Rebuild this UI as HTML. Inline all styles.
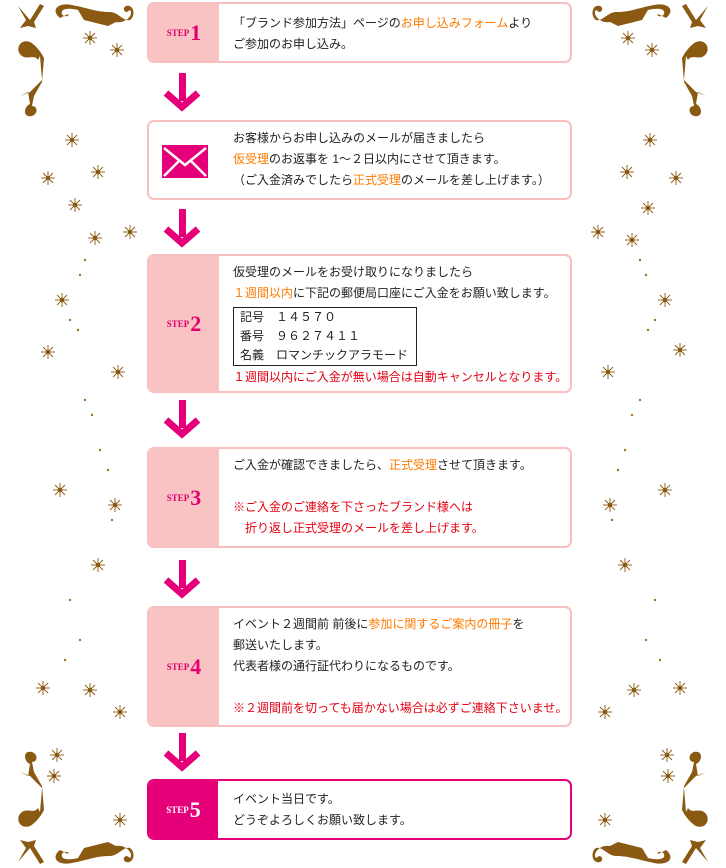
<!DOCTYPE html>
<html><head><meta charset="utf-8">
<style>
*{margin:0;padding:0;box-sizing:border-box}
body{width:726px;height:868px;background:#fff;position:relative;overflow:hidden;font-family:"Liberation Sans","Noto Sans CJK JP",sans-serif;font-size:12px;color:#222}
.box{position:absolute;left:147px;width:425px;border:2px solid #f8c0c0;border-radius:7px;background:#fff;overflow:hidden}
.lp{position:absolute;left:0;top:0;bottom:0;width:70px;background:#f9c3c3;display:flex;align-items:center;justify-content:center;color:#e3006e;font-family:"Liberation Serif",serif;font-weight:bold}
.lp .s{font-size:9px;letter-spacing:0}
.lp .n{font-size:22px;margin-left:1px}
.tx{position:absolute;left:84px;line-height:21px;white-space:nowrap}
.o{color:#ff7a00}.r{color:#e50012}
.arr{position:absolute;left:163px}
svg.bg{position:absolute;left:0;top:0}
.acc{display:inline-block;border:1px solid #222;padding:0 8px 0 6px;margin:3px 0 1px 0;line-height:19px}
</style></head><body>
<svg class="bg" width="726" height="868" viewBox="0 0 726 868">
<defs>
<g id="corner" fill="#8b5a12">
<path d="M18 6 L30 20 L40 4 L44 6 L34 22 L36 28 L28 26 L20 28 L26 20 Z"/>
<path d="M60 18 C50 10 58 2 72 5 C88 8 96 12 110 12 C118 12 124 22 130 20 C136 16 134 4 126 6 C122 8 124 12 127 12 L130 10 C134 14 126 24 116 22 L108 26 L100 24 L84 20 L78 10 C70 8 60 8 62 14 C64 18 70 16 68 14 Z"/>
<path d="M30 42 C20 38 14 50 22 56 C28 60 34 54 38 60 L40 56 L42 80 L30 92 L20 96 L28 92 L30 104 C24 106 22 118 32 116 C38 114 38 106 32 106 L34 96 L42 82 L44 58 C40 50 34 44 30 42 Z"/>
</g>
<g id="st" stroke="#8b5a12" stroke-width="0.9">
<line x1="-7" y1="0" x2="7" y2="0"/><line x1="0" y1="-7" x2="0" y2="7"/><line x1="-5" y1="-5" x2="5" y2="5"/><line x1="-5" y1="5" x2="5" y2="-5"/><circle r="1.8" fill="#8b5a12"/>
</g>
</defs>
<use href="#corner"/>
<use href="#corner" transform="translate(726,0) scale(-1,1)"/>
<use href="#corner" transform="translate(0,868) scale(1,-1)"/>
<use href="#corner" transform="translate(726,868) scale(-1,-1)"/>
<g>
<use href="#st" x="90" y="38"/><use href="#st" x="117" y="50"/><use href="#st" x="72" y="140"/><use href="#st" x="48" y="178"/><use href="#st" x="98" y="172"/><use href="#st" x="75" y="205"/><use href="#st" x="95" y="238"/><use href="#st" x="130" y="232"/><use href="#st" x="62" y="300"/><use href="#st" x="48" y="352"/><use href="#st" x="118" y="372"/><use href="#st" x="60" y="490"/><use href="#st" x="115" y="505"/><use href="#st" x="98" y="565"/><use href="#st" x="43" y="688"/><use href="#st" x="90" y="690"/><use href="#st" x="120" y="712"/><use href="#st" x="57" y="755"/><use href="#st" x="54" y="776"/><use href="#st" x="120" y="820"/>
<use href="#st" x="628" y="38"/><use href="#st" x="652" y="50"/><use href="#st" x="650" y="140"/><use href="#st" x="676" y="178"/><use href="#st" x="627" y="172"/><use href="#st" x="648" y="208"/><use href="#st" x="632" y="240"/><use href="#st" x="598" y="232"/><use href="#st" x="665" y="300"/><use href="#st" x="680" y="350"/><use href="#st" x="608" y="372"/><use href="#st" x="665" y="490"/><use href="#st" x="610" y="505"/><use href="#st" x="625" y="565"/><use href="#st" x="680" y="688"/><use href="#st" x="634" y="690"/><use href="#st" x="605" y="712"/><use href="#st" x="667" y="755"/><use href="#st" x="668" y="776"/><use href="#st" x="605" y="820"/>
</g>
<g fill="#a0701c">
<circle cx="85" cy="260" r="1.2"/><circle cx="80" cy="275" r="1.2"/><circle cx="70" cy="320" r="1.2"/><circle cx="78" cy="330" r="1.2"/><circle cx="85" cy="400" r="1.2"/><circle cx="92" cy="415" r="1.2"/><circle cx="100" cy="450" r="1.2"/><circle cx="108" cy="470" r="1.2"/><circle cx="112" cy="520" r="1.2"/><circle cx="70" cy="600" r="1.2"/><circle cx="80" cy="640" r="1.2"/><circle cx="65" cy="660" r="1.2"/>
<circle cx="640" cy="260" r="1.2"/><circle cx="646" cy="275" r="1.2"/><circle cx="655" cy="320" r="1.2"/><circle cx="648" cy="330" r="1.2"/><circle cx="640" cy="400" r="1.2"/><circle cx="632" cy="415" r="1.2"/><circle cx="625" cy="450" r="1.2"/><circle cx="618" cy="470" r="1.2"/><circle cx="612" cy="520" r="1.2"/><circle cx="655" cy="600" r="1.2"/><circle cx="646" cy="640" r="1.2"/><circle cx="660" cy="660" r="1.2"/>
</g>
</svg>

<div class="box" style="top:2px;height:61px"><div class="lp"><span class="s">STEP</span><span class="n">1</span></div>
<div class="tx" style="top:9px">「ブランド参加方法」ページの<span class="o">お申し込みフォーム</span>より<br>ご参加のお申し込み。</div></div>

<svg class="arr" style="top:73px" width="38" height="40"><rect x="16" y="0" width="7" height="28" fill="#e5007a"/><polyline points="3,20 19,34 35,20" fill="none" stroke="#e5007a" stroke-width="7"/></svg>

<div class="box" style="top:120px;height:80px">
<svg style="position:absolute;left:13px;top:23px" width="46" height="33"><rect width="46" height="33" fill="#e5007a"/><polyline points="2,3 23,20 44,3" fill="none" stroke="#fff" stroke-width="2.5"/><polyline points="2,31 17,16 M44,31 29,16" fill="none" stroke="#fff" stroke-width="2.5"/><line x1="44" y1="31" x2="29" y2="16" stroke="#fff" stroke-width="2.5"/></svg>
<div class="tx" style="top:6px">お客様からお申し込みのメールが届きましたら<br><span class="o">仮受理</span>のお返事を 1～２日以内にさせて頂きます。<br>（ご入金済みでしたら<span class="o">正式受理</span>のメールを差し上げます。）</div></div>

<svg class="arr" style="top:209px" width="38" height="40"><rect x="16" y="0" width="7" height="28" fill="#e5007a"/><polyline points="3,20 19,34 35,20" fill="none" stroke="#e5007a" stroke-width="7"/></svg>

<div class="box" style="top:254px;height:139px"><div class="lp"><span class="s">STEP</span><span class="n">2</span></div>
<div class="tx" style="top:6px">仮受理のメールをお受け取りになりましたら<br><span class="o">１週間以内</span>に下記の郵便局口座にご入金をお願い致します。<br>
<span class="acc">記号　１４５７０<br>番号　９６２７４１１<br>名義　ロマンチックアラモード</span><br><span class="r" style="line-height:17px">１週間以内にご入金が無い場合は自動キャンセルとなります。</span></div></div>

<svg class="arr" style="top:400px" width="38" height="40"><rect x="16" y="0" width="7" height="28" fill="#e5007a"/><polyline points="3,20 19,34 35,20" fill="none" stroke="#e5007a" stroke-width="7"/></svg>

<div class="box" style="top:447px;height:101px"><div class="lp"><span class="s">STEP</span><span class="n">3</span></div>
<div class="tx" style="top:6px">ご入金が確認できましたら、<span class="o">正式受理</span>させて頂きます。<br><br><span class="r">※ご入金のご連絡を下さったブランド様へは<br>　折り返し正式受理のメールを差し上げます。</span></div></div>

<svg class="arr" style="top:560px" width="38" height="40"><rect x="16" y="0" width="7" height="28" fill="#e5007a"/><polyline points="3,20 19,34 35,20" fill="none" stroke="#e5007a" stroke-width="7"/></svg>

<div class="box" style="top:606px;height:121px"><div class="lp"><span class="s">STEP</span><span class="n">4</span></div>
<div class="tx" style="top:6px">イベント２週間前 前後に<span class="o">参加に関するご案内の冊子</span>を<br>郵送いたします。<br>代表者様の通行証代わりになるものです。<br><br><span class="r">※２週間前を切っても届かない場合は必ずご連絡下さいませ。</span></div></div>

<svg class="arr" style="top:733px" width="38" height="40"><rect x="16" y="0" width="7" height="28" fill="#e5007a"/><polyline points="3,20 19,34 35,20" fill="none" stroke="#e5007a" stroke-width="7"/></svg>

<div class="box" style="top:779px;height:61px;border-color:#e5007a"><div class="lp" style="background:#e5007a;color:#fff;width:69px"><span class="s">STEP</span><span class="n">5</span></div>
<div class="tx" style="top:8px">イベント当日です。<br>どうぞよろしくお願い致します。</div></div>
</body></html>
